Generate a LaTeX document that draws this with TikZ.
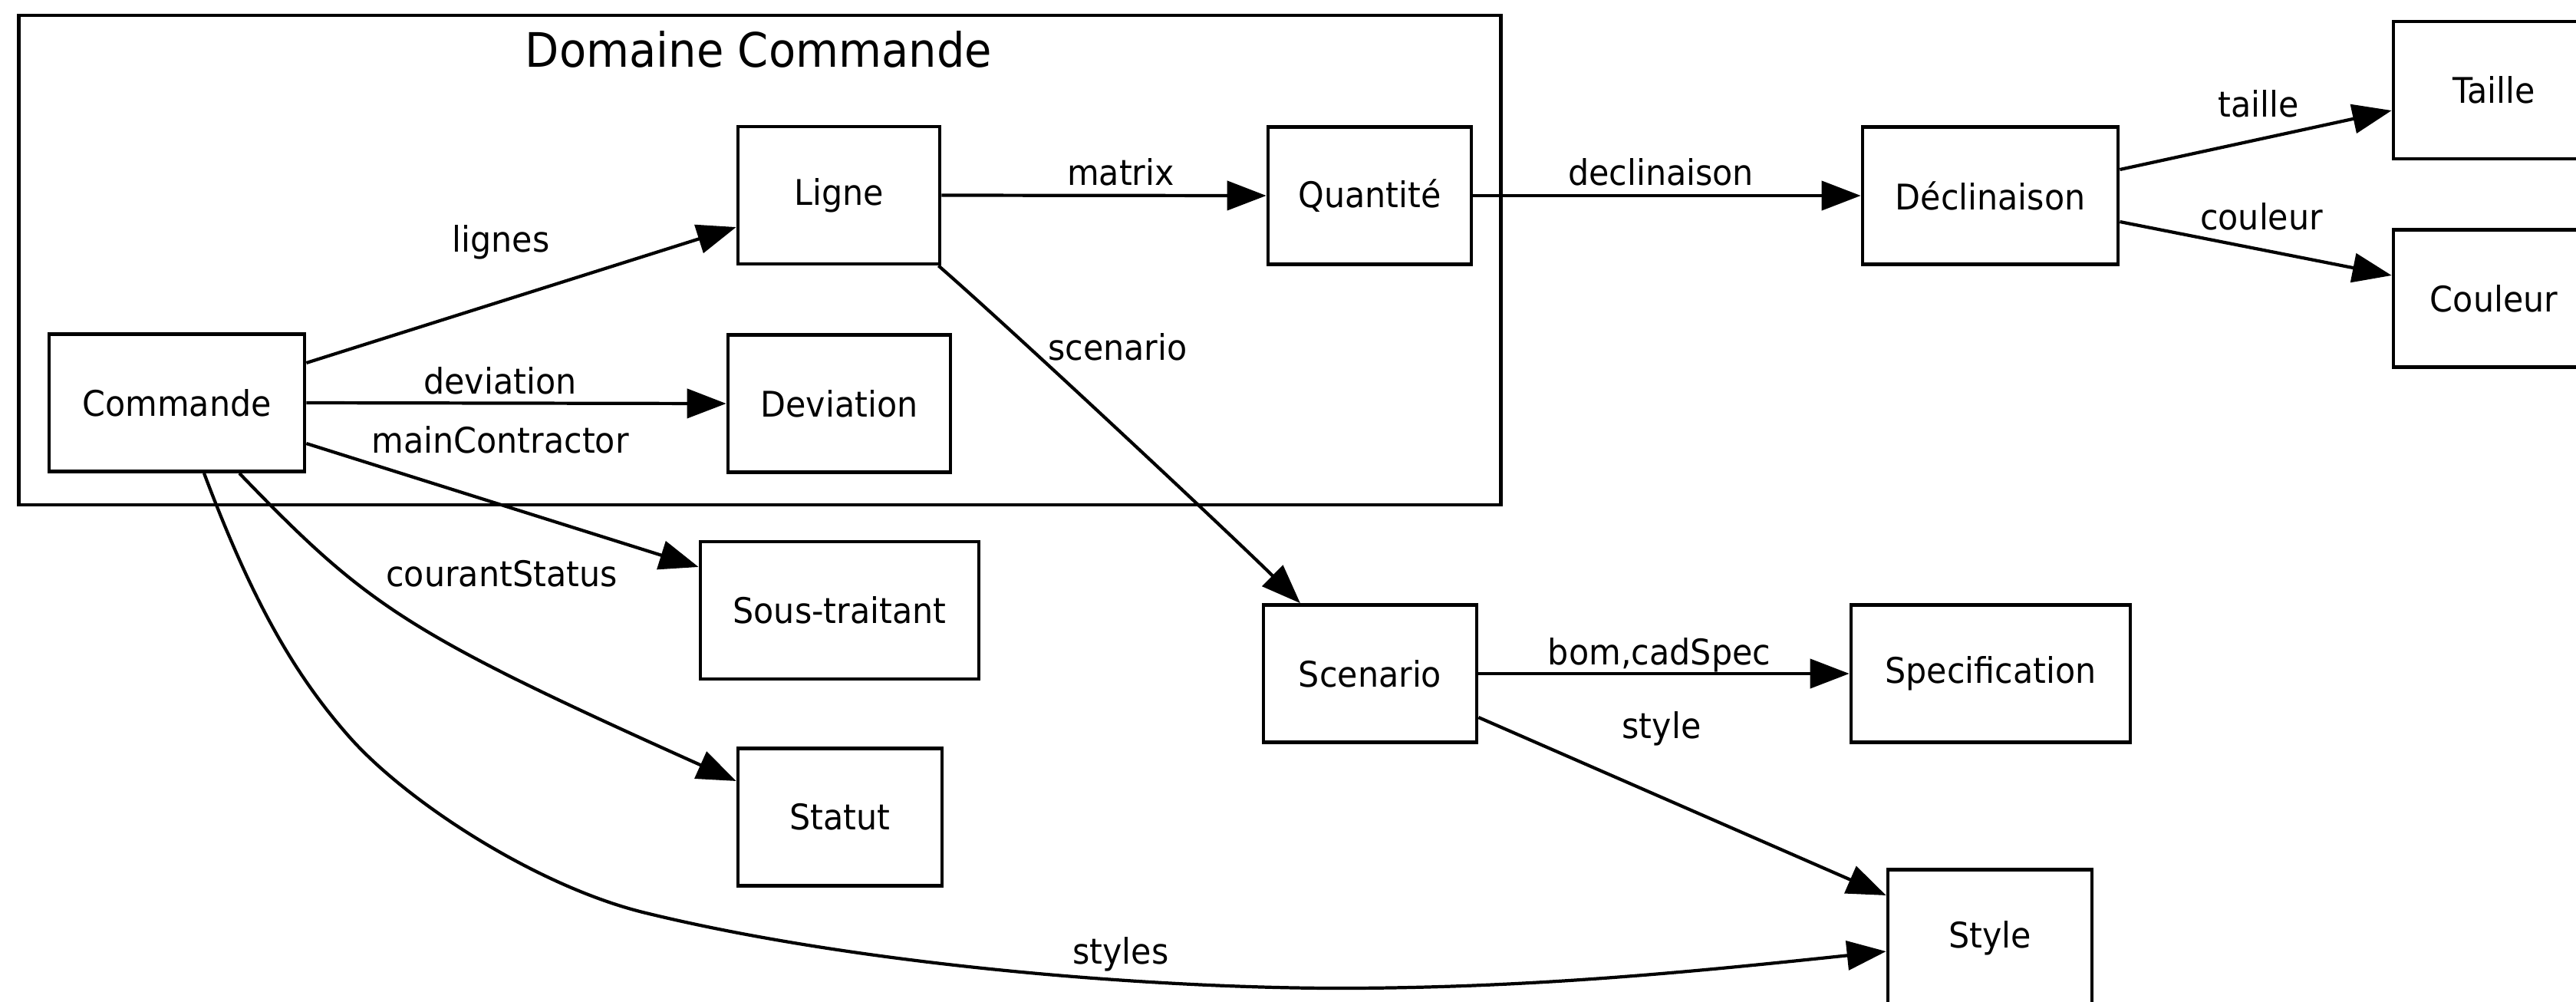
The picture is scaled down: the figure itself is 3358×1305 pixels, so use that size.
\documentclass[tikz,border=0pt]{standalone}
\usepackage{fontspec}
\setmainfont{DejaVu Sans}[FakeStretch=0.93]
\usetikzlibrary{arrows.meta}

\begin{document}
\begin{tikzpicture}[x=0.01cm, y=-0.01cm,
  ent/.style={draw, line width=1.3pt, inner sep=0pt, minimum height=1.79cm,
              font=\fontsize{13.1pt}{15pt}\selectfont},
  lbl/.style={inner sep=0pt, anchor=base, font=\fontsize{13.1pt}{15pt}\selectfont},
  rel/.style={line width=1.2pt, -{Triangle[length=0.51cm, width=0.38cm]}},
]
\fill[white] (0,0) rectangle (3358,1305);
\useasboundingbox (0,0) rectangle (3358,1305);
\clip (0,0) rectangle (3358,1305);

% cluster "Domaine Commande"
\node[draw, line width=1.3pt, inner sep=0pt, minimum width=19.31cm, minimum height=6.38cm] (dom) at (990.5,339) {};
\node[lbl, font=\fontsize{17.6pt}{20pt}\selectfont] (domtitle) at (989,87) {Domaine Commande};

% entities
\node[ent, minimum width=3.33cm] (cmd)  at (230.5,525)  {Commande};
\node[ent, minimum width=2.63cm] (lig)  at (1093.5,254.5) {Ligne};
\node[ent, minimum width=2.90cm] (dev)  at (1094,526)   {Deviation};
\node[ent, minimum width=2.65cm] (qua)  at (1785.5,255) {Quantité};
\node[ent, minimum width=3.33cm] (decl) at (2594.5,255) {Déclinaison};
\node[ent, minimum width=2.62cm] (tai)  at (3251,117.5) {Taille};
\node[ent, minimum width=2.62cm] (cou)  at (3251,389)   {Couleur};
\node[ent, minimum width=3.63cm] (sous) at (1094.5,795.5) {Sous-traitant};
\node[ent, minimum width=2.66cm] (stat) at (1095,1065)  {Statut};
\node[ent, minimum width=2.78cm] (scen) at (1786,878)   {Scenario};
\node[ent, minimum width=3.64cm] (spec) at (2595,878)   {Specification};
\node[ent, minimum width=2.66cm] (sty)  at (2594,1223)  {Style};

% relations
\draw[rel] ([yshift=0.52cm]cmd.east) -- ([yshift=-0.415cm]lig.west);
\draw[rel] (cmd.east) -- (dev.west);
\draw[rel] ([yshift=-0.53cm]cmd.east) -- ([yshift=0.565cm]sous.west);
\draw[rel] ([xshift=0.815cm]cmd.south) .. controls (480,791) and (530,825) .. ([yshift=0.47cm]stat.west);
\draw[rel] ([xshift=0.355cm]cmd.south) .. controls (326,776) and (380,875) .. (455,960)
           .. controls (530,1045) and (698,1154) .. (838,1189)
           .. controls (1118,1258) and (1500,1288) .. (1746,1288)
           .. controls (1996,1288) and (2212,1266) .. ([yshift=-0.17cm]sty.west);
\draw[rel] (lig.east) -- (qua.west);
\draw[rel] ([xshift=-0.04cm]lig.south east) .. controls (1325,435) and (1610,702) .. ([xshift=-0.91cm]scen.north);
\draw[rel] (qua.east) -- (decl.west);
\draw[rel] ([yshift=0.34cm]decl.east) -- ([yshift=-0.265cm]tai.west);
\draw[rel] ([yshift=-0.34cm]decl.east) -- ([yshift=0.30cm]cou.west);
\draw[rel] (scen.east) -- (spec.west);
\draw[rel] ([yshift=-0.57cm]scen.east) -- ([yshift=0.56cm]sty.west);

% relation labels
\node[lbl] (l-lignes)   at (653,328)   {lignes};
\node[lbl] (l-dev)      at (652,513)   {deviation};
\node[lbl] (l-main)     at (652,590)   {mainContractor};
\node[lbl] (l-courant)  at (654,764)   {courantStatus};
\node[lbl] (l-styles)   at (1461,1256) {styles};
\node[lbl] (l-matrix)   at (1461,241)  {matrix};
\node[lbl] (l-scenario) at (1457,469)  {scenario};
\node[lbl] (l-decl)     at (2165,241)  {declinaison};
\node[lbl] (l-taille)   at (2944,152)  {taille};
\node[lbl] (l-couleur)  at (2948,299)  {couleur};
\node[lbl] (l-bom)      at (2163,866)  {bom,cadSpec};
\node[lbl] (l-style)    at (2166,962)  {style};
\end{tikzpicture}
\end{document}
